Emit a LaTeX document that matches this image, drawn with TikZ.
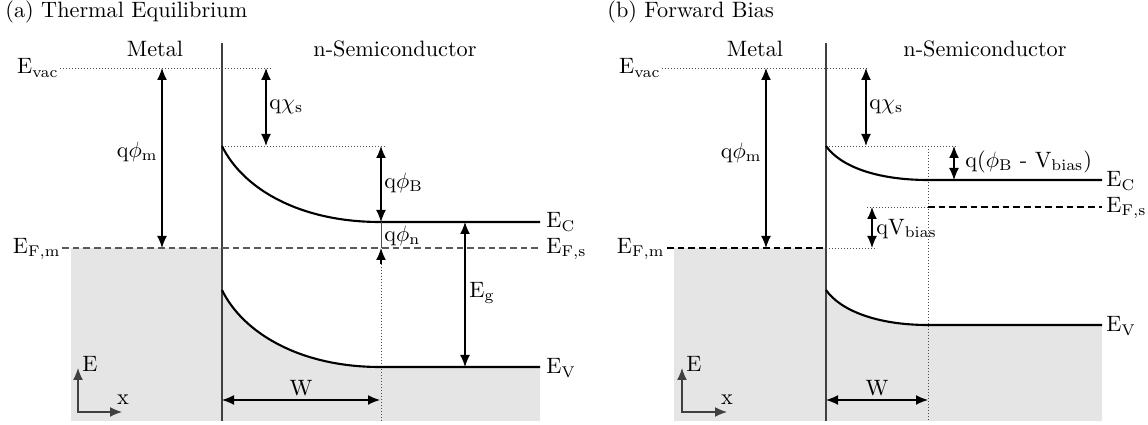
\documentclass[tikz,border=0pt]{standalone}
\usetikzlibrary{arrows.meta}
\begin{document}
\begin{tikzpicture}[x=0.45pt,y=-0.45pt,
  lbl/.style={inner sep=0pt},
  dimarrow/.style={line width=0.5pt, {Latex[length=5.4pt,width=4.4pt]}-{Latex[length=5.4pt,width=4.4pt]}},
  onearrow/.style={line width=0.5pt, -{Latex[length=5.4pt,width=4.4pt]}},
  axisarrow/.style={line width=0.5pt, black!75, {Latex[length=5.4pt,width=4.4pt]}-{Latex[length=5.4pt,width=4.4pt]}},
  band/.style={line width=0.95pt},
  level/.style={line width=0.6pt, dash pattern=on 3pt off 1.8pt},
  guide/.style={line width=0.4pt, black!70, dash pattern=on 0.45pt off 0.9pt},
  iface/.style={line width=0.6pt, black!75},
  fillband/.style={fill=black!10}]
\useasboundingbox (0,0) rectangle (1148,425);

% ================= (a) Thermal Equilibrium =================
\fill[fillband] (71,248) rectangle (222,421);
\fill[fillband] (222,290) .. controls (243,333) and (300,367) .. (380,367) -- (540,367) -- (540,421) -- (222,421) -- cycle;

\node[lbl, anchor=base west] (ta) at (5,18) {(a) Thermal Equilibrium};
\node[lbl, anchor=base] (ma) at (155,57) {Metal};
\node[lbl, anchor=base] (sa) at (395,57) {n-Semiconductor};

\draw[iface] (222,43) -- (222,421);
\draw[guide] (60,68) -- (272,68);
\draw[level, black!65] (62,248) -- (540,248);
\draw[guide] (222,146) -- (385,146);
\draw[guide] (381,264) -- (381,421);
\draw[band] (222,146) .. controls (243,189) and (300,222) .. (380,222) -- (540,222);
\draw[band] (222,290) .. controls (243,333) and (300,367) .. (380,367) -- (540,367);

\draw[dimarrow] (162,68) -- (162,248);
\draw[dimarrow] (266,68) -- (266,146);
\draw[dimarrow] (381,146) -- (381,222);
\draw[line width=0.4pt, black!70] (381,222) -- (381,248);
\draw[onearrow] (381,264) -- (381,248);
\draw[dimarrow] (465,222) -- (465,367);
\draw[dimarrow] (222,400) -- (380,400);
\draw[axisarrow] (78,368) -- (78,412) -- (122,412);

\node[lbl, anchor=east] (evaca) at (59,68) {$\mathrm{E_{vac}}$};
\node[lbl, anchor=east] (efma) at (61,249) {$\mathrm{E_{F,m}}$};
\node[lbl, anchor=east] (phima) at (158,152) {$\mathrm{q}\phi_\mathrm{m}$};
\node[lbl, anchor=west] (chia) at (269,107) {$\mathrm{q}\chi_\mathrm{s}$};
\node[lbl, anchor=west] (phiba) at (384,183) {$\mathrm{q}\phi_\mathrm{B}$};
\node[lbl, anchor=west] (phina) at (384,236) {$\mathrm{q}\phi_\mathrm{n}$};
\node[lbl, anchor=west] (ega) at (469,293) {$\mathrm{E_g}$};
\node[lbl, anchor=west] (eca) at (546,222) {$\mathrm{E_C}$};
\node[lbl, anchor=west] (efsa) at (546,249) {$\mathrm{E_{F,s}}$};
\node[lbl, anchor=west] (eva) at (546,368) {$\mathrm{E_V}$};
\node[lbl] (wa) at (301,388) {W};
\node[lbl, anchor=west] (axea) at (82,364) {E};
\node[lbl] (axxa) at (123,400) {x};

% ================= (b) Forward Bias =================
\fill[fillband] (674,248) rectangle (826,421);
\fill[fillband] (826,290) .. controls (840,310) and (876,325) .. (928,325) -- (1102,325) -- (1102,421) -- (826,421) -- cycle;

\node[lbl, anchor=base west] (tb) at (607,18) {(b) Forward Bias};
\node[lbl, anchor=base] (mb) at (755,57) {Metal};
\node[lbl, anchor=base] (sb) at (985,57) {n-Semiconductor};

\draw[iface] (826,43) -- (826,421);
\draw[guide] (662,68) -- (868,68);
\draw[guide] (826,146) -- (958,146);
\draw[guide] (928,146) -- (928,421);
\draw[guide] (867,207) -- (928,207);
\draw[level] (928,207) -- (1102,207);
\draw[level] (667,248) -- (826,248);
\draw[guide] (826,248) -- (877,248);
\draw[band] (826,146) .. controls (840,166) and (876,180) .. (928,180) -- (1102,180);
\draw[band] (826,290) .. controls (840,310) and (876,325) .. (928,325) -- (1102,325);

\draw[dimarrow] (766,68) -- (766,248);
\draw[dimarrow] (866,68) -- (866,146);
\draw[dimarrow] (954,146) -- (954,180);
\draw[dimarrow] (872,207) -- (872,248);
\draw[dimarrow] (826,400) -- (928,400);
\draw[axisarrow] (682,368) -- (682,412) -- (727,412);

\node[lbl, anchor=east] (evacb) at (661,68) {$\mathrm{E_{vac}}$};
\node[lbl, anchor=east] (efmb) at (665,249) {$\mathrm{E_{F,m}}$};
\node[lbl, anchor=east] (phimb) at (762,153) {$\mathrm{q}\phi_\mathrm{m}$};
\node[lbl, anchor=west] (chib) at (869,107) {$\mathrm{q}\chi_\mathrm{s}$};
\node[lbl, anchor=west] (phibb) at (965,162) {$\mathrm{q}(\phi_\mathrm{B}$ - $\mathrm{V_{bias}})$};
\node[lbl, anchor=west] (vbb) at (876,229) {$\mathrm{qV_{bias}}$};
\node[lbl, anchor=west] (ecb) at (1106,181) {$\mathrm{E_C}$};
\node[lbl, anchor=west] (efsb) at (1106,208) {$\mathrm{E_{F,s}}$};
\node[lbl, anchor=west] (evb) at (1106,326) {$\mathrm{E_V}$};
\node[lbl] (wb) at (877,388) {W};
\node[lbl, anchor=west] (axeb) at (686,364) {E};
\node[lbl] (axxb) at (727,400) {x};
\end{tikzpicture}
\end{document}
